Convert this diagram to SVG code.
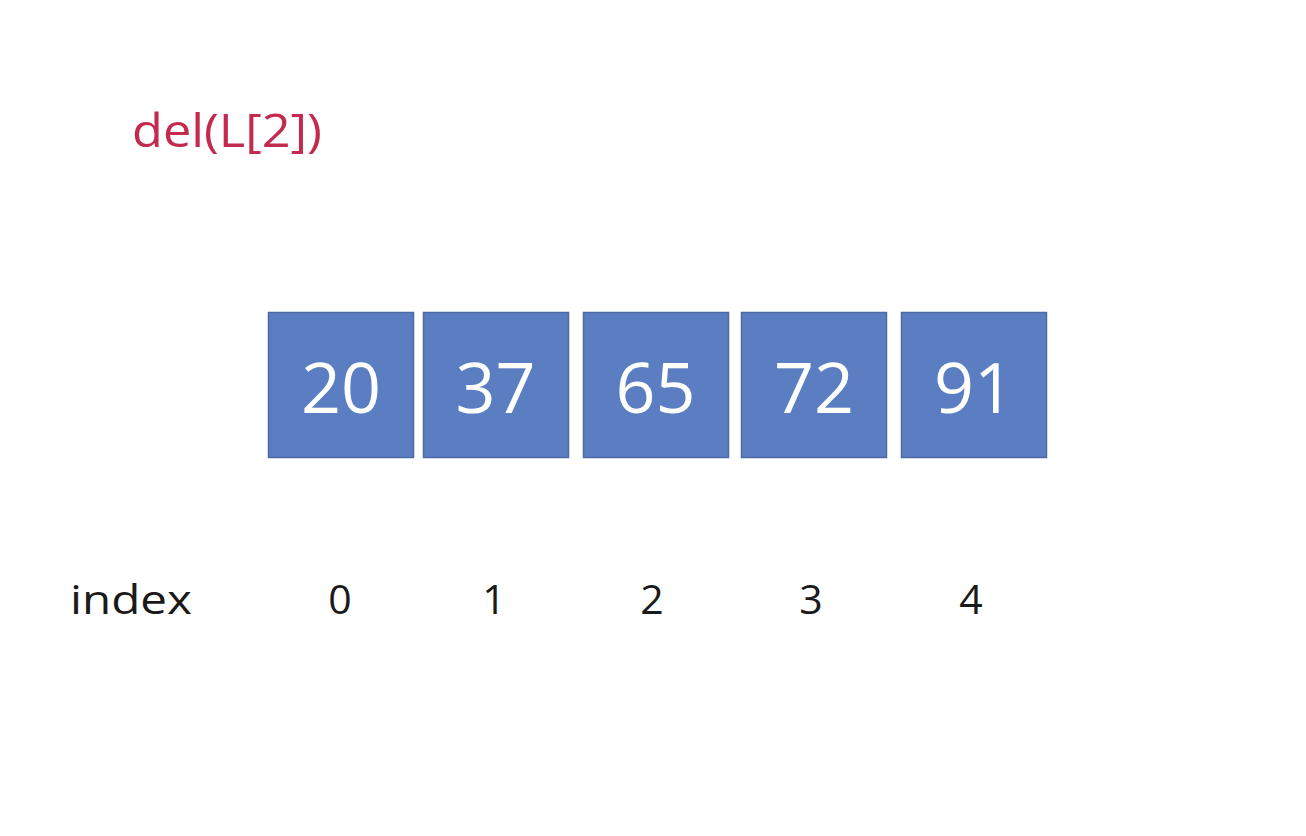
<svg xmlns="http://www.w3.org/2000/svg" width="1306" height="836" viewBox="0 0 1306 836">
<style>
.box{fill:#5b7ec2;stroke:#4c6aa6;stroke-width:1.5}
.val{font-family:"Open Sans","Liberation Sans",sans-serif;font-size:70px;fill:#ffffff;text-anchor:middle}
.idx{font-family:"Open Sans","Liberation Sans",sans-serif;font-size:41px;fill:#1a1a1a;text-anchor:middle}
.code{font-family:"Open Sans","Liberation Sans",sans-serif;font-size:46px;fill:#c42a4f}
</style>
<rect width="1306" height="836" fill="#ffffff"/>
<text class="code" x="132" y="147" textLength="190" lengthAdjust="spacingAndGlyphs">del(L[2])</text>
<g id="node-0"><rect class="box" x="268.5" y="312.5" width="145" height="145"/><text class="val" x="341" y="413">20</text></g>
<g id="node-1"><rect class="box" x="423.5" y="312.5" width="145" height="145"/><text class="val" x="495.5" y="413">37</text></g>
<g id="node-2"><rect class="box" x="583.5" y="312.5" width="145" height="145"/><text class="val" x="655.5" y="413">65</text></g>
<g id="node-3"><rect class="box" x="741.5" y="312.5" width="145" height="145"/><text class="val" x="814" y="413">72</text></g>
<g id="node-4"><rect class="box" x="901.5" y="312.5" width="145" height="145"/><text class="val" x="974" y="413">91</text></g>
<g id="connectors"></g>
<g id="index-row">
<text class="idx" x="70" y="614" style="text-anchor:start" textLength="122" lengthAdjust="spacingAndGlyphs">index</text>
<text class="idx" x="340" y="614">0</text>
<text class="idx" x="494" y="614">1</text>
<text class="idx" x="652" y="614">2</text>
<text class="idx" x="811" y="614">3</text>
<text class="idx" x="971" y="614">4</text>
</g>
</svg>
